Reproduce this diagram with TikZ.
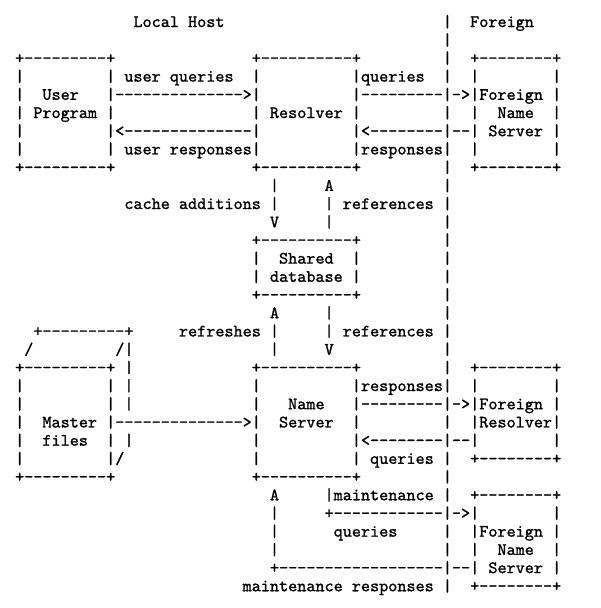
\documentclass[tikz,border=0pt]{standalone}
\usepackage{fontspec}
\setmonofont{lmmono10-regular.otf}[FakeBold=1.2]
\usepackage{tikz}

\tikzset{row/.style={anchor=base west, inner sep=0pt, font=\fontsize{8.667pt}{9.1pt}\selectfont\ttfamily}}

\begin{document}
\begin{tikzpicture}[x=4.55pt, y=-9.1pt]
  \useasboundingbox (-1.621, -0.4835) rectangle (64.31, 32.92);
  \node[row] (r1) at (0, 1) {\verb!             Local Host                        |  Foreign!};
  \node[row] (r2) at (0, 2) {\verb!                                               |!};
  \node[row] (r3) at (0, 3) {\verb!+---------+               +----------+         |  +--------+!};
  \node[row] (r4) at (0, 4) {\verb!|         | user queries  |          |queries  |  |        |!};
  \node[row] (r5) at (0, 5) {\verb!|  User   |-------------->|          |---------|->|Foreign |!};
  \node[row] (r6) at (0, 6) {\verb!| Program |               | Resolver |         |  |  Name  |!};
  \node[row] (r7) at (0, 7) {\verb!|         |<--------------|          |<--------|--| Server |!};
  \node[row] (r8) at (0, 8) {\verb!|         | user responses|          |responses|  |        |!};
  \node[row] (r9) at (0, 9) {\verb!+---------+               +----------+         |  +--------+!};
  \node[row] (r10) at (0, 10) {\verb!                            |     A            |!};
  \node[row] (r11) at (0, 11) {\verb!            cache additions |     | references |!};
  \node[row] (r12) at (0, 12) {\verb!                            V     |            |!};
  \node[row] (r13) at (0, 13) {\verb!                          +----------+         |!};
  \node[row] (r14) at (0, 14) {\verb!                          |  Shared  |         |!};
  \node[row] (r15) at (0, 15) {\verb!                          | database |         |!};
  \node[row] (r16) at (0, 16) {\verb!                          +----------+         |!};
  \node[row] (r17) at (0, 17) {\verb!                            A     |            |!};
  \node[row] (r18) at (0, 18) {\verb!  +---------+     refreshes |     | references |!};
  \node[row] (r19) at (0, 19) {\verb! /         /|               |     V            |!};
  \node[row] (r20) at (0, 20) {\verb!+---------+ |             +----------+         |  +--------+!};
  \node[row] (r21) at (0, 21) {\verb!|         | |             |          |responses|  |        |!};
  \node[row] (r22) at (0, 22) {\verb!|         | |             |   Name   |---------|->|Foreign |!};
  \node[row] (r23) at (0, 23) {\verb!|  Master |-------------->|  Server  |         |  |Resolver|!};
  \node[row] (r24) at (0, 24) {\verb!|  files  | |             |          |<--------|--|        |!};
  \node[row] (r25) at (0, 25) {\verb!|         |/              |          | queries |  +--------+!};
  \node[row] (r26) at (0, 26) {\verb!+---------+               +----------+         |!};
  \node[row] (r27) at (0, 27) {\verb!                            A     |maintenance |  +--------+!};
  \node[row] (r28) at (0, 28) {\verb!                            |     +------------|->|        |!};
  \node[row] (r29) at (0, 29) {\verb!                            |      queries     |  |Foreign |!};
  \node[row] (r30) at (0, 30) {\verb!                            |                  |  |  Name  |!};
  \node[row] (r31) at (0, 31) {\verb!                            +------------------|--| Server |!};
  \node[row] (r32) at (0, 32) {\verb!                         maintenance responses |  +--------+!};
\end{tikzpicture}
\end{document}
